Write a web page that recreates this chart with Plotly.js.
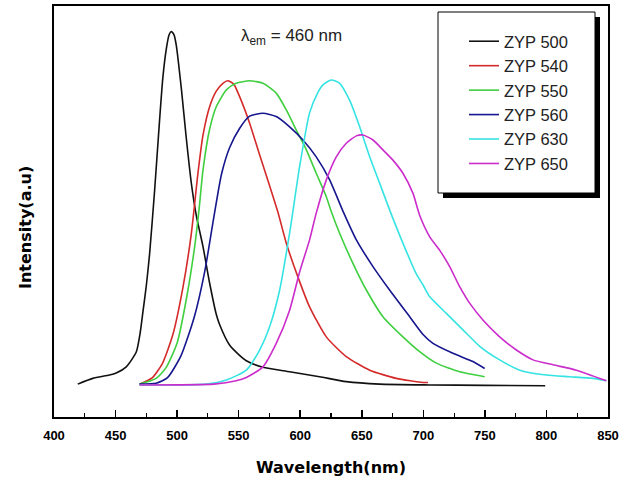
<!DOCTYPE html>
<html>
<head>
<meta charset="utf-8">
<script src="https://cdn.plot.ly/plotly-3.0.1.min.js"></script>
<style>html,body{margin:0;padding:0;background:#fff;}#chart{width:622px;height:477px;}</style>
</head>
<body>
<div id="chart"></div>
<script>
// ---- data ----
const seriesNames = ["ZYP 500", "ZYP 540", "ZYP 550", "ZYP 560", "ZYP 630", "ZYP 650"];

const zyp500_nm = [419.3, 431.5, 445, 450.5, 458.7, 466.8, 470, 472.2, 475, 477.6, 481.7, 485.7, 488.4, 491.2, 493.5, 495.2, 497.5, 499.3, 503.4, 507.4, 511.5, 515.6, 521, 526.4, 531.8, 534.5, 542.6, 550.7, 556.2, 569.7, 591.4, 615.7, 637.4, 664.5, 705, 750, 799];
const zyp500_I  = [8.0, 9.4, 10.2, 10.7, 12.2, 15.8, 20.5, 25.5, 32.0, 39.5, 55.0, 72.0, 82.5, 89.5, 93.0, 93.8, 93.0, 90.5, 80.0, 68.0, 57.0, 49.0, 41.5, 32.6, 25.0, 22.5, 17.5, 15.0, 13.7, 12.1, 11.0, 9.8, 8.6, 8.0, 7.8, 7.7, 7.6];

const zyp540_nm = [469.5, 480, 488, 496.5, 504.7, 511.5, 517, 521, 526.4, 531.8, 537.2, 541.2, 546, 550.7, 558.9, 567, 575.2, 581.9, 588.7, 598.1, 607.6, 621.2, 637.4, 656.4, 678, 699.7, 703.8];
const zyp540_I  = [8.0, 9.6, 13.0, 20.0, 31.5, 44.5, 59.5, 68.5, 75.5, 79.3, 81.2, 81.8, 81.0, 78.0, 71.5, 63.8, 56.2, 49.8, 42.3, 34.1, 26.8, 19.5, 14.7, 11.4, 9.4, 8.4, 8.4];

const zyp550_nm = [469.5, 483, 491, 500, 508, 514.5, 518, 521, 526.4, 531.8, 540, 548, 558.9, 569.7, 580.5, 588.7, 596.8, 605, 613, 621.2, 625, 632, 642.8, 653.7, 667.2, 683.4, 697, 710.6, 729.5, 749.8];
const zyp550_I  = [8.0, 9.4, 12.0, 18.0, 29.5, 42.0, 51.0, 60.0, 70.0, 75.5, 79.6, 81.2, 81.8, 81.2, 78.8, 74.7, 69.8, 65.0, 59.3, 53.6, 50.2, 44.7, 37.4, 30.9, 24.4, 19.5, 15.9, 13.1, 11.0, 9.8];

const zyp560_nm = [469.5, 483, 492, 503, 514, 522.5, 529.5, 536, 542.6, 550.7, 558.9, 569.7, 580.5, 591.4, 602.2, 613, 623.9, 634.7, 645.6, 659.1, 672.6, 688.9, 700, 707.8, 724, 740.3, 749.8];
const zyp560_I  = [8.0, 8.2, 9.5, 14.8, 24.4, 35.5, 48.0, 59.0, 65.5, 70.2, 73.2, 73.9, 73.1, 70.6, 67.4, 63.3, 57.7, 50.1, 43.1, 36.6, 30.9, 24.4, 20.0, 17.9, 15.5, 13.5, 11.8];

const zyp630_nm = [469.5, 523.7, 540, 556.2, 567, 575.2, 583.3, 591.4, 599.5, 607.6, 614.4, 618.4, 625.2, 632, 640.1, 648.3, 656.4, 664.5, 672.6, 683.4, 694.3, 700, 705.1, 718.7, 732.2, 745.8, 762, 778.3, 800, 818.9, 837.8, 848.7];
const zyp630_I  = [7.8, 8.0, 9.0, 11.4, 16.3, 22.0, 30.9, 44.8, 60.9, 74.0, 79.0, 80.8, 82.0, 81.2, 77.1, 70.6, 63.3, 56.9, 50.4, 42.3, 34.8, 32.0, 29.3, 25.2, 21.2, 17.2, 13.9, 11.4, 10.2, 9.8, 9.4, 8.8];

const zyp650_nm = [469.5, 530, 548, 556.2, 569.7, 580.5, 591.4, 599.5, 607.6, 613, 621.2, 629.3, 637.4, 645.6, 651, 659.1, 667.2, 675.3, 683.4, 691.6, 697, 705.1, 713.2, 721.4, 729.5, 737.6, 748.4, 762, 775.6, 789.1, 805.3, 824.3, 848.7];
const zyp650_I  = [7.8, 8.0, 8.8, 9.6, 12.2, 17.9, 26.0, 35.3, 43.1, 49.6, 57.7, 63.3, 66.6, 68.4, 68.6, 67.4, 65.0, 62.5, 59.3, 54.4, 49.1, 43.9, 40.6, 36.6, 31.7, 27.7, 23.6, 19.5, 16.3, 13.9, 12.7, 11.4, 8.8];

const xTickVals = [400, 450, 500, 550, 600, 650, 700, 750, 800, 850];
const xTickText = ["400", "450", "500", "550", "600", "650", "700", "750", "800", "850"];

// ---- styles ----
const colors = ["#111111", "#d42a2a", "#3fcf3f", "#16168e", "#35e3e3", "#cc2ccc"];
const xs = [zyp500_nm, zyp540_nm, zyp550_nm, zyp560_nm, zyp630_nm, zyp650_nm];
const ys = [zyp500_I, zyp540_I, zyp550_I, zyp560_I, zyp630_I, zyp650_I];

const traces = seriesNames.map((n, i) => ({
  type: "scatter", mode: "lines", name: n,
  x: xs[i], y: ys[i],
  line: {color: colors[i], width: 1.6, shape: "spline", smoothing: 0.6}
}));

const W = 622, H = 477, mL = 54, mR = 14, mT = 6, mB = 60;
const pw = W - mL - mR, ph = H - mT - mB;
const px = v => (v - mL) / pw;
const py = v => (H - mB - v) / ph;

const layout = {
  width: W, height: H,
  margin: {l: mL, r: mR, t: mT, b: mB, pad: 0},
  paper_bgcolor: "#ffffff", plot_bgcolor: "#ffffff",
  font: {family: "Liberation Sans, Arial, sans-serif", color: "#000"},
  showlegend: true,
  legend: {
    x: px(464), y: py(24), xanchor: "left", yanchor: "top",
    bgcolor: "rgba(0,0,0,0)", borderwidth: 0,
    font: {family: "Liberation Sans, Arial, sans-serif", size: 16.5, color: "#222"}
  },
  xaxis: {
    range: [400, 850], tickmode: "array", tickvals: xTickVals, ticktext: xTickText,
    ticks: "inside", ticklen: 7, tickwidth: 1.5, tickcolor: "#000",
    minor: {ticks: "inside", ticklen: 4, tickwidth: 1.2, dtick: 25, tick0: 400, tickcolor: "#000", showgrid: false},
    showline: true, mirror: true, linewidth: 2, linecolor: "#000",
    showgrid: false, zeroline: false,
    ticklabelstandoff: 5,
    tickfont: {family: "Liberation Sans, Arial, sans-serif", size: 13, weight: "bold", color: "#000"},
    title: {text: "Wavelength(nm)", standoff: 20,
      font: {family: "DejaVu Sans, sans-serif", size: 16, weight: "bold", color: "#000"}}
  },
  yaxis: {
    range: [0, 100], showticklabels: false, ticks: "",
    showline: true, mirror: true, linewidth: 2, linecolor: "#000",
    showgrid: false, zeroline: false
  },
  shapes: [
    {type: "rect", xref: "paper", yref: "paper", layer: "above",
     x0: px(443), x1: px(600), y0: py(198), y1: py(17),
     fillcolor: "#000", line: {width: 0}},
    {type: "rect", xref: "paper", yref: "paper", layer: "above",
     x0: px(438), x1: px(595), y0: py(193), y1: py(12),
     fillcolor: "#fff", line: {color: "#000", width: 1}}
  ],
  annotations: [
    {text: "λ<sub>em</sub> = 460 nm", xref: "x", yref: "y", x: 550, y: 92.5,
     xanchor: "left", yanchor: "middle", showarrow: false,
     font: {family: "Liberation Sans, Arial, sans-serif", size: 17, color: "#222"}},
    {text: "Intensity(a.u)", xref: "paper", yref: "paper",
     x: px(25), y: py(228), xanchor: "center", yanchor: "middle",
     textangle: -90, showarrow: false,
     font: {family: "DejaVu Sans, sans-serif", size: 16, weight: "bold", color: "#000"}}
  ]
};

Plotly.newPlot("chart", traces, layout, {staticPlot: true, displayModeBar: false});
</script>
</body>
</html>
